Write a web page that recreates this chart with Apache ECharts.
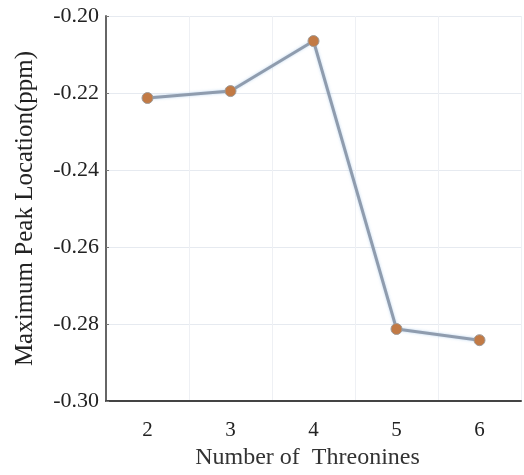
<!DOCTYPE html>
<html><head><meta charset="utf-8">
<script src="https://cdn.jsdelivr.net/npm/echarts@6/dist/echarts.min.js"></script>
<style>html,body{margin:0;padding:0;background:#fff}#c{width:524px;height:475px}</style>
</head><body><div id="c"></div>
<script>
const categories = ['2', '3', '4', '5', '6'];
const peakValues = [-0.2213, -0.2195, -0.2065, -0.2813, -0.2842];
const yTicks = { min: -0.30, max: -0.20, step: 0.02 };
const xName = 'Number of  Threonines';
const yName = 'Maximum Peak Location(ppm)';

const chart = echarts.init(document.getElementById('c'), null, { renderer: 'canvas' });
const font = 'Liberation Serif';
chart.setOption({
  animation: false,
  backgroundColor: '#fff',
  grid: { left: 106, right: 3, top: 16, bottom: 74 },
  xAxis: {
    type: 'category',
    data: categories,
    boundaryGap: true,
    name: xName,
    nameLocation: 'middle',
    nameGap: 44,
    nameTextStyle: { fontFamily: font, fontSize: 24, color: '#333', padding: [0, 12, 0, 0] },
    axisLine: { lineStyle: { color: '#444', width: 2 } },
    axisTick: { inside: true, length: 4, lineStyle: { color: '#555' } },
    axisLabel: { fontFamily: font, fontSize: 21, color: '#222', margin: 19 },
    splitLine: { show: true, lineStyle: { color: '#eef0f4', width: 1 } }
  },
  yAxis: {
    type: 'value',
    min: yTicks.min, max: yTicks.max, interval: yTicks.step,
    name: yName,
    nameLocation: 'middle',
    nameGap: 68,
    nameTextStyle: { fontFamily: font, fontSize: 25, color: '#222' },
    axisLine: { show: true, lineStyle: { color: '#666', width: 2 } },
    axisTick: { show: true, inside: true, length: 3, lineStyle: { color: '#777' } },
    axisLabel: { fontFamily: font, fontSize: 22, color: '#222', margin: 7,
      formatter: v => v.toFixed(2) },
    splitLine: { show: true, lineStyle: { color: '#e6eaf0', width: 1 } }
  },
  series: [{
    type: 'line',
    data: peakValues,
    symbol: 'circle',
    symbolSize: 11,
    lineStyle: { color: '#8f9cae', width: 3, shadowColor: 'rgba(150,190,230,0.6)', shadowBlur: 3 },
    itemStyle: { color: '#c27a45', borderColor: '#a09a96', borderWidth: 1 }
  }]
});
</script></body></html>
